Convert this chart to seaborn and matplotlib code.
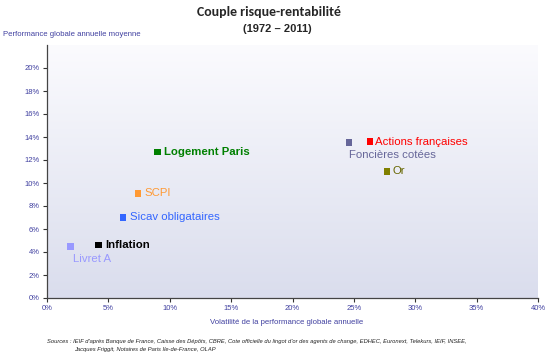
import numpy as np
import pandas as pd
import matplotlib
matplotlib.use("Agg")
import matplotlib.pyplot as plt
import seaborn as sns
from matplotlib.colors import LinearSegmentedColormap

# ---- data ----
assets = ["Livret A", "Inflation", "Sicav obligataires", "SCPI", "Logement Paris",
          "Foncières cotées", "Actions françaises", "Or"]
volatility = [1.9, 4.2, 6.2, 7.4, 9.0, 24.6, 26.3, 27.7]
performance = [4.5, 4.6, 7.0, 9.1, 12.7, 13.5, 13.6, 11.0]
colors = ["#9999ff", "#000000", "#3366ff", "#ff9933", "#008000", "#666699", "#ff0000", "#808000"]
x_ticks = [0, 5, 10, 15, 20, 25, 30, 35, 40]
y_ticks = [0, 2, 4, 6, 8, 10, 12, 14, 16, 18, 20]

df = pd.DataFrame({"asset": assets, "vol": volatility, "perf": performance})

sns.set_style("white")
plt.rcParams["font.family"] = ["Liberation Sans", "DejaVu Sans"]

fig = plt.figure(figsize=(5.5, 3.59), dpi=100)
ax = fig.add_axes([47/550, 61/359, 491/550, 253/359])

# gradient background
cmap = LinearSegmentedColormap.from_list("bg", ["#fbfbfe", "#dadded"])
grad = np.linspace(0, 1, 256).reshape(-1, 1)
ax.imshow(grad, cmap=cmap, aspect="auto", extent=[0, 40, 0, 22], origin="upper", zorder=0)

sns.scatterplot(data=df, x="vol", y="perf", hue="asset", palette=colors, hue_order=assets,
                marker="s", s=22, edgecolor="none", legend=False, ax=ax, zorder=3)

label_style = {
    "Livret A": dict(dx=2, dy=-9, weight="normal", color="#9999ff"),
    "Inflation": dict(dx=5, dy=0, weight="bold", color="#000000"),
    "Sicav obligataires": dict(dx=5, dy=0, weight="normal", color="#3366ff"),
    "SCPI": dict(dx=5, dy=0, weight="normal", color="#ff9933"),
    "Logement Paris": dict(dx=5, dy=0, weight="bold", color="#008000"),
    "Foncières cotées": dict(dx=0, dy=-9, weight="normal", color="#666699"),
    "Actions françaises": dict(dx=4, dy=0, weight="normal", color="#ff0000"),
    "Or": dict(dx=4, dy=0, weight="normal", color="#666600"),
}
for a, xv, yv in zip(assets, volatility, performance):
    st = label_style[a]
    ax.annotate(a, (xv, yv), xytext=(st["dx"], st["dy"]), textcoords="offset points",
                ha="left", va="center", fontsize=8.2, fontweight=st["weight"],
                color=st["color"], zorder=4)

ax.set_xlim(0, 40)
ax.set_ylim(0, 22)
ax.set_xticks(x_ticks)
ax.set_xticklabels([f"{t}%" for t in x_ticks])
ax.set_yticks(y_ticks)
ax.set_yticklabels([f"{t}%" for t in y_ticks])
tick_color = "#4040a0"
ax.tick_params(axis="both", labelsize=5.5, labelcolor=tick_color, length=3, width=0.8,
               color="#333333", direction="out", pad=2)
ax.tick_params(axis="both", which="both", bottom=True, left=True)
for side in ["top", "right"]:
    ax.spines[side].set_visible(False)
for side in ["left", "bottom"]:
    ax.spines[side].set_color("#444444")
    ax.spines[side].set_linewidth(0.9)
ax.set_xlabel("")
ax.set_ylabel("")

fig.text(287/550, 1 - 322/359, "Volatilité de la performance globale annuelle", ha="center",
         va="center", fontsize=5.6, color=tick_color)
fig.text(3/550, 1 - 35/359, "Performance globale annuelle moyenne", ha="left", va="center",
         fontsize=5.6, color=tick_color)

fig.text(269/550, 1 - 12/359, "Couple risque-rentabilité", ha="center", va="center",
         fontsize=10, fontweight="bold", family=["Carlito", "Liberation Sans", "DejaVu Sans"])
fig.text(277/550, 1 - 29/359, "(1972 – 2011)", ha="center", va="center",
         fontsize=8, fontweight="bold")

fig.text(47/550, 1 - 341/359,
         "Sources : IEIF d'après Banque de France, Caisse des Dépôts, CBRE, Cote officielle du lingot d'or des agents de change, EDHEC, Euronext, Telekurs, IEIF, INSEE,",
         ha="left", va="center", fontsize=4.15, style="italic", color="#222222")
fig.text(74/550, 1 - 350/359,
         "Jacques Friggit, Notaires de Paris Ile-de-France, OLAP",
         ha="left", va="center", fontsize=4.15, style="italic", color="#222222")

fig.savefig("out.png", dpi=100, facecolor="white")
